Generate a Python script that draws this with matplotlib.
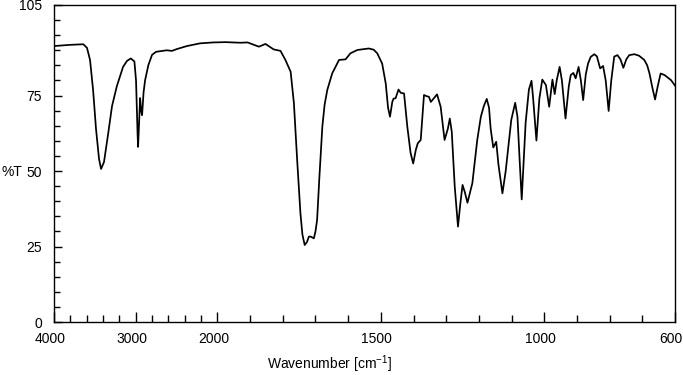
import numpy as np
import matplotlib
matplotlib.use("Agg")
import matplotlib.pyplot as plt
import matplotlib.transforms as mtransforms
from matplotlib.ticker import FixedLocator, NullFormatter, FixedFormatter

plt.rcParams['font.family'] = ['Liberation Sans', 'DejaVu Sans']
plt.rcParams['mathtext.fontset'] = 'custom'
plt.rcParams['mathtext.rm'] = 'Liberation Sans'
plt.rcParams['mathtext.it'] = 'Liberation Sans'

wavenumber = [4000, 3804, 3641, 3596, 3559, 3522, 3486, 3449, 3424, 3388, 3339, 3290, 3232, 3155,
              3106, 3060, 3016, 2996, 2977, 2971, 2959, 2946, 2934, 2922, 2904, 2885, 2845, 2800,
              2750, 2620, 2555, 2497, 2374, 2212, 2052, 1975, 1930, 1908, 1873, 1853, 1828, 1807,
              1792, 1776, 1766, 1756, 1746, 1740, 1733, 1726, 1720, 1715, 1705, 1700, 1695, 1688,
              1679, 1672, 1664, 1649, 1628, 1608, 1593, 1572, 1537, 1522, 1511, 1496, 1485, 1478,
              1472, 1465, 1461, 1455, 1446, 1439, 1429, 1419, 1409, 1401, 1393, 1387, 1378, 1368,
              1360, 1353, 1347, 1328, 1317, 1305, 1295, 1289, 1283, 1274, 1264, 1257, 1250, 1243,
              1235, 1220, 1205, 1194, 1185, 1176, 1169, 1164, 1156, 1147, 1140, 1128, 1118, 1101,
              1089, 1082, 1076, 1069, 1057, 1047, 1039, 1034, 1024, 1015, 1006, 995, 985, 975,
              968, 962, 953, 946, 935, 925, 919, 911, 904, 895, 888, 881, 873, 866, 858, 847,
              839, 829, 820, 812, 803, 795, 786, 776, 767, 758, 749, 740, 724, 710, 694, 685,
              678, 670, 661, 653, 644, 632, 612, 600]
transmittance = [91.4, 91.8, 92.0, 90.8, 86.8, 77.0, 64.0, 54.0, 50.7, 53.0, 62.0, 71.5, 78.0, 84.5,
                 86.5, 87.3, 86.3, 80.0, 62.0, 58.0, 66.0, 74.2, 70.0, 68.5, 76.0, 80.1, 85.1, 88.5,
                 89.5, 90.0, 89.8, 90.4, 91.4, 92.3, 92.6, 92.7, 92.5, 92.6, 91.2, 92.1, 90.3, 89.8,
                 86.8, 82.9, 72.5, 53.6, 36.0, 29.0, 25.5, 26.5, 28.3, 28.3, 27.7, 30.0, 33.8, 48.0,
                 64.7, 72.0, 76.8, 82.3, 86.8, 87.0, 89.0, 90.1, 90.6, 90.2, 89.0, 85.6, 79.0, 71.0,
                 68.0, 72.9, 74.0, 74.1, 77.0, 75.9, 75.7, 64.7, 56.0, 52.5, 57.0, 59.2, 60.3, 75.2,
                 74.8, 74.6, 72.9, 75.4, 71.3, 60.3, 64.0, 67.4, 63.0, 45.0, 31.6, 39.0, 45.4, 43.0,
                 39.5, 46.0, 60.3, 68.0, 71.5, 73.9, 71.0, 64.0, 57.8, 59.7, 52.0, 42.6, 50.0, 66.9,
                 72.6, 68.0, 55.0, 40.6, 66.0, 77.0, 79.9, 74.0, 60.1, 74.0, 80.3, 78.5, 71.3, 80.3,
                 75.5, 80.0, 84.5, 80.0, 67.4, 78.0, 81.8, 82.5, 80.7, 84.5, 80.0, 73.5, 82.0, 85.6, 87.8, 88.7,
                 88.0, 84.0, 84.8, 80.0, 69.9, 80.0, 87.9, 88.4, 87.0, 84.2, 87.0, 88.4, 88.7, 88.2, 86.8, 85.0,
                 82.3, 78.0, 73.7, 78.0, 82.3, 81.8, 80.1, 78.3]

x_major = [4000, 3000, 2000, 1500, 1000, 600]
x_major_labels = ['4000', '3000', '2000', '1500', '1000', '600']
y_major = [0, 25, 50, 75, 105]
y_major_labels = ['0', '25', '50', '75', '105']


def fwd(x):
    x = np.asarray(x, dtype=float)
    return np.where(x > 2000, 2000 + (x - 2000) / 4.0, x)


def inv(p):
    p = np.asarray(p, dtype=float)
    return np.where(p > 2000, 2000 + (p - 2000) * 4.0, p)


fig = plt.figure(figsize=(6.83, 3.75), dpi=100)
ax = fig.add_axes([54 / 683, 1 - 322 / 375, (675 - 54) / 683, (322 - 5) / 375])
ax.set_xscale('function', functions=(fwd, inv))
ax.plot(wavenumber, transmittance, color='black', lw=1.25, solid_joinstyle='round')
ax.set_xlim(4000, 600)
ax.set_ylim(0, 105)

x_minor = [v for v in list(range(3800, 2000, -200)) + list(range(1900, 600, -100))
           if v not in x_major]
ax.xaxis.set_major_locator(FixedLocator(x_major))
ax.xaxis.set_major_formatter(FixedFormatter(x_major_labels))
ax.xaxis.set_minor_locator(FixedLocator(x_minor))
ax.xaxis.set_minor_formatter(NullFormatter())

y_minor = [v for v in range(5, 105, 5) if v not in y_major]
ax.yaxis.set_major_locator(FixedLocator(y_major))
ax.yaxis.set_major_formatter(FixedFormatter(y_major_labels))
ax.yaxis.set_minor_locator(FixedLocator(y_minor))
ax.yaxis.set_minor_formatter(NullFormatter())

ax.tick_params(axis='x', which='major', direction='in', length=7, width=1.0, pad=7.5, labelsize=10)
ax.tick_params(axis='x', which='minor', direction='in', length=4.8, width=1.0)
ax.tick_params(axis='y', which='major', direction='in', length=6, width=1.0, pad=8.5, labelsize=10)
ax.tick_params(axis='y', which='minor', direction='in', length=4.3, width=1.0)
for s in ax.spines.values():
    s.set_linewidth(1.0)

shift = mtransforms.ScaledTranslation(-4 / 100, 0, fig.dpi_scale_trans)
for lbl in ax.get_xticklabels():
    lbl.set_transform(lbl.get_transform() + shift)

fig.text(12 / 683, 1 - 172 / 375, '%T', fontsize=10, ha='center', va='center')
fig.text(330 / 683, 1 - 369 / 375, 'Wavenumber [cm$^{-1}$]', fontsize=10, ha='center', va='baseline')

fig.savefig('out.png', dpi=100)
